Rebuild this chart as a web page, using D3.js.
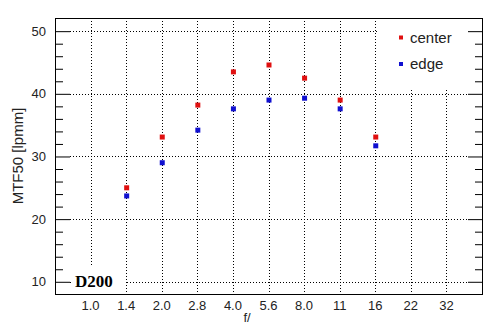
<!DOCTYPE html>
<html><head><meta charset="utf-8">
<script src="https://cdn.jsdelivr.net/npm/d3@7"></script>
<style>body{margin:0;background:#fff}svg{display:block}</style>
</head><body>
<script>
const categories = ["1.0","1.4","2.0","2.8","4.0","5.6","8.0","11","16","22","32"];
const centerCats = ["1.4","2.0","2.8","4.0","5.6","8.0","11","16"];
const centerVals = [25.0,33.1,38.2,43.5,44.6,42.5,39.0,33.1];
const edgeVals   = [23.7,29.0,34.2,37.6,39.0,39.3,37.6,31.7];
const yMajorTicks = [10,20,30,40,50];
const yMinorTicks = [12,14,16,18,22,24,26,28,32,34,36,38,42,44,46,48,52];

const W=494,H=331;
const L=55,R=482,T=18,B=294;
const svg=d3.select("body").append("svg").attr("width",W).attr("height",H);
const x=d3.scalePoint().domain(categories).range([L,R]).padding(1);
const y=d3.scaleLinear().domain([8.05,52.1]).range([B,T]);
const font="Liberation Sans, Arial, sans-serif";

// grid
const g=svg.append("g");
g.selectAll("line.v").data(categories).join("line")
 .attr("x1",d=>Math.round(x(d))+0.5).attr("x2",d=>Math.round(x(d))+0.5)
 .attr("y1",T).attr("y2",B).attr("stroke","#000").attr("stroke-dasharray","1,2");
g.selectAll("line.h").data(yMajorTicks).join("line")
 .attr("x1",L+15).attr("x2",R-15)
 .attr("y1",d=>Math.round(y(d))+0.5).attr("y2",d=>Math.round(y(d))+0.5)
 .attr("stroke","#000").attr("stroke-dasharray","1,2");

// white boxes for legend and label
svg.append("rect").attr("x",377).attr("y",T+1).attr("width",91).attr("height",70).attr("fill","#fff");
svg.append("rect").attr("x",71).attr("y",267).attr("width",54).attr("height",26).attr("fill","#fff");

// axes ticks (inward)
const yl=d3.axisRight(y).tickValues(yMajorTicks).tickSize(15).tickFormat("");
const ylm=d3.axisRight(y).tickValues(yMinorTicks.filter(v=>v<52)).tickSize(8).tickFormat("");
const yr=d3.axisLeft(y).tickValues(yMajorTicks).tickSize(14).tickFormat("");
const yrm=d3.axisLeft(y).tickValues(yMinorTicks.filter(v=>v<52)).tickSize(7).tickFormat("");
[[yl,L],[ylm,L],[yr,R],[yrm,R]].forEach(([a,px])=>{
  const ga=svg.append("g").attr("transform",`translate(${px},0)`).call(a);
  ga.select(".domain").remove();
  ga.selectAll("line").attr("stroke","#000");
});

// frame
svg.append("rect").attr("x",L+0.5).attr("y",T+0.5).attr("width",R-L).attr("height",B-T)
 .attr("fill","none").attr("stroke","#000");

// tick labels
svg.append("g").selectAll("text").data(yMajorTicks).join("text")
 .attr("x",46).attr("y",d=>y(d)+4.5).attr("text-anchor","end")
 .attr("font-family",font).attr("font-size",13).attr("fill","#222").text(d=>d);
svg.append("g").selectAll("text").data(categories).join("text")
 .attr("x",d=>x(d)).attr("y",310).attr("text-anchor","middle")
 .attr("font-family",font).attr("font-size",13).attr("fill","#222").text(d=>d);

// axis titles
svg.append("text").attr("transform","translate(23,156) rotate(-90)").attr("text-anchor","middle")
 .attr("font-family",font).attr("font-size",15).attr("fill","#222").text("MTF50 [lpmm]");
svg.append("text").attr("x",247).attr("y",322).attr("text-anchor","middle")
 .attr("font-family",font).attr("font-size",13).attr("fill","#222").text("f/");

// D200 label
svg.append("text").attr("x",75).attr("y",287).attr("font-family","Liberation Serif, Times New Roman, serif")
 .attr("font-weight","bold").attr("font-size",17).attr("fill","#000").text("D200");

// points
const sz=5;
svg.append("g").selectAll("rect").data(centerCats.map((c,i)=>[c,centerVals[i]])).join("rect")
 .attr("x",d=>x(d[0])-sz/2+0.5).attr("y",d=>y(d[1])-sz/2).attr("width",sz).attr("height",sz).attr("fill","#e01010");
svg.append("g").selectAll("rect").data(centerCats.map((c,i)=>[c,edgeVals[i]])).join("rect")
 .attr("x",d=>x(d[0])-sz/2+0.5).attr("y",d=>y(d[1])-sz/2).attr("width",sz).attr("height",sz).attr("fill","#1010d0");

// legend
const leg=[["center","#e01010",42.5],["edge","#1010d0",69]];
leg.forEach(([t,c,yy])=>{
  svg.append("rect").attr("x",399).attr("y",yy-7).attr("width",4).attr("height",4).attr("fill",c);
  svg.append("text").attr("x",410).attr("y",yy).attr("font-family",font).attr("font-size",15).attr("fill","#222").text(t);
});
</script>
</body></html>
